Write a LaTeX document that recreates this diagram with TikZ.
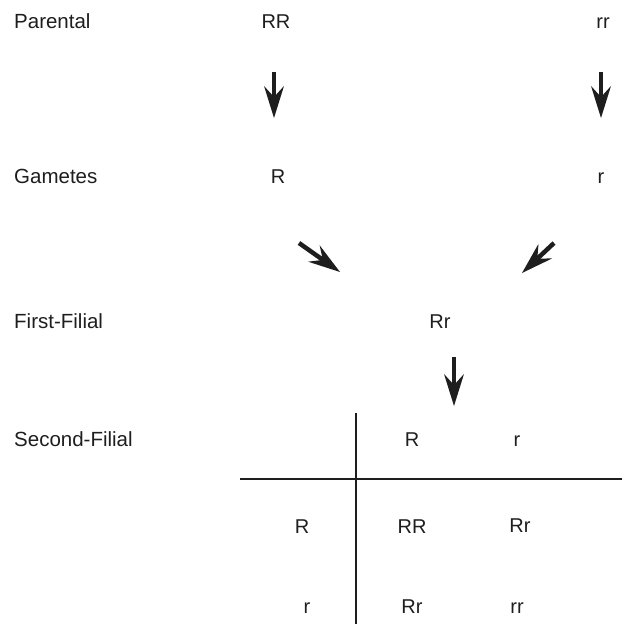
\documentclass[tikz,border=0pt]{standalone}
\usepackage{fontspec}
\setmainfont{Liberation Sans}
\usetikzlibrary{arrows.meta}
\definecolor{ink}{HTML}{1E1E1E}
\begin{document}
\begin{tikzpicture}[x=1pt,y=-1pt,
  lbl/.style={inner sep=0pt,anchor=base west,text=ink,font=\fontsize{20.5}{24}\selectfont},
  txt/.style={inner sep=0pt,anchor=base,text=ink,font=\fontsize{20}{24}\selectfont},
  bigarrow/.style={ink,line width=4.5pt,-{Stealth[length=32pt,width=20pt,inset=11pt,line width=0pt]}},
  rule/.style={ink,line width=2.3pt}]
\useasboundingbox (0,0) rectangle (622,624);
% row labels
\node[lbl] (parental) at (14,28) {Parental};
\node[lbl] (gametes) at (14,183) {Gametes};
\node[lbl] (first) at (14,328) {First-Filial};
\node[lbl] (second) at (14,446) {Second-Filial};
% genotypes
\node[txt] (RR) at (276,28) {RR};
\node[txt] (rr) at (603,28) {rr};
\node[txt] (gR) at (278,183) {R};
\node[txt] (gr) at (601,183) {r};
\node[txt] (Rr) at (440,328) {Rr};
% arrows
\coordinate (a1s) at (274,72);  \coordinate (a1e) at (274,118);
\coordinate (a2s) at (601,72);  \coordinate (a2e) at (601,118);
\coordinate (a3s) at (299,243); \coordinate (a3e) at (340,272);
\coordinate (a4s) at (554,243); \coordinate (a4e) at (522,273);
\coordinate (a5s) at (454,357); \coordinate (a5e) at (454,406);
\draw[bigarrow] (a1s) -- (a1e);
\draw[bigarrow] (a2s) -- (a2e);
\draw[bigarrow] (a3s) -- (a3e);
\draw[bigarrow] (a4s) -- (a4e);
\draw[bigarrow] (a5s) -- (a5e);
% Punnett square
\coordinate (vt) at (356,413); \coordinate (vb) at (356,624);
\coordinate (hl) at (240,479); \coordinate (hr) at (622,479);
\draw[rule] (vt) -- (vb);
\draw[rule] (hl) -- (hr);
\node[txt] (hR) at (412,446) {R};
\node[txt] (hr2) at (517,446) {r};
\node[txt] (sR) at (302,533) {R};
\node[txt] (sr) at (307,613) {r};
\node[txt] (cRR) at (412,533) {RR};
\node[txt] (cRr1) at (520,532) {Rr};
\node[txt] (cRr2) at (412,613) {Rr};
\node[txt] (crr) at (517,613) {rr};
\end{tikzpicture}
\end{document}
